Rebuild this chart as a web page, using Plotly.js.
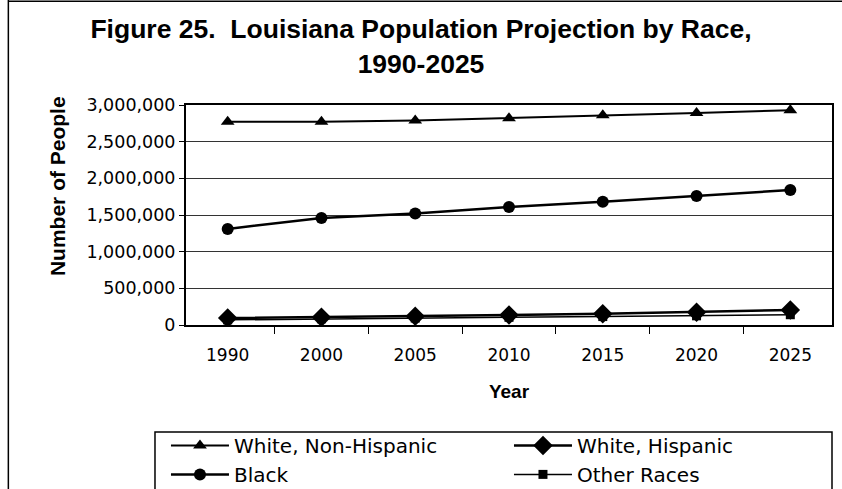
<!DOCTYPE html>
<html>
<head>
<meta charset="utf-8">
<script src="https://cdn.plot.ly/plotly-3.0.1.min.js"></script>
<style>html,body{margin:0;padding:0;background:#fff;}#chart{width:842px;height:489px;}</style>
</head>
<body>
<div id="chart"></div>
<script>
const years = ["1990","2000","2005","2010","2015","2020","2025"];
const whiteNonHispanic = [2770000, 2770000, 2790000, 2820000, 2860000, 2890000, 2930000];
const whiteHispanic = [95000, 105000, 120000, 135000, 155000, 175000, 205000];
const black = [1310000, 1460000, 1520000, 1610000, 1680000, 1760000, 1840000];
const otherRaces = [70000, 85000, 95000, 105000, 115000, 125000, 140000];
const yTickVals = [0, 500000, 1000000, 1500000, 2000000, 2500000, 3000000];
const yTickText = ["0","500,000","1,000,000","1,500,000","2,000,000","2,500,000","3,000,000"];

const fontA = "Liberation Sans, Arial, sans-serif";
const fontD = "DejaVu Sans, sans-serif";
function tr(name, y, symbol, size, width) {
  return {x: years, y: y, name: name, type: "scatter", mode: "lines+markers",
    line: {color: "#000", width: width},
    marker: {symbol: symbol, size: size, color: "#000"}};
}
const data = [
  tr("White, Non-Hispanic", whiteNonHispanic, "triangle-up", 12, 2),
  tr("White, Hispanic", whiteHispanic, "diamond", 15, 2.5),
  tr("Black", black, "circle", 12, 2.5),
  tr("Other Races", otherRaces, "square", 9, 1.5)
];
const layout = {
  width: 842, height: 489,
  margin: {l: 186, r: 10, t: 105, b: 164, autoexpand: false},
  paper_bgcolor: "#fff", plot_bgcolor: "#fff",
  font: {family: fontA, color: "#000"},
  title: {text: "<b>Figure 25.  Louisiana Population Projection by Race,<br>1990-2025</b>",
    font: {size: 26.5, family: fontA, color: "#000"}, x: 0.5, xanchor: "center",
    xref: "container", yref: "container", y: 0.922, yanchor: "top"},
  showlegend: true,
  legend: {orientation: "h", x: -0.031, xanchor: "left", y: -0.4586, yanchor: "top",
    font: {size: 20, family: fontD, color: "#000"}, entrywidth: 270, entrywidthmode: "pixels",
    borderwidth: 0, bgcolor: "rgba(0,0,0,0)", tracegroupgap: 0, itemwidth: 58},
  xaxis: {type: "category", tickson: "boundaries", ticks: "outside", ticklen: 7, tickcolor: "#000",
    showline: true, linecolor: "#000", linewidth: 2, mirror: true, showgrid: false,
    tickfont: {size: 17, family: fontD}, zeroline: false, ticklabelstandoff: 14,
    title: {text: "<b>Year</b>", font: {size: 19, family: fontA}, standoff: 20}},
  yaxis: {range: [0, 3000000], tickvals: yTickVals, ticktext: yTickText, ticks: "outside",
    ticklen: 5, tickcolor: "#000", showline: true, linecolor: "#000", linewidth: 2, mirror: true,
    showgrid: true, gridcolor: "#333", gridwidth: 1, zeroline: false,
    tickfont: {size: 17.5, family: fontD}},
  annotations: [
    {text: "<b>Number of People</b>", xref: "paper", yref: "paper", x: -0.198, y: 0.632,
      textangle: -90, showarrow: false, font: {size: 21, family: fontA, color: "#000"},
      xanchor: "center", yanchor: "middle"}
  ],
  shapes: [
    {type: "line", xref: "paper", yref: "paper", x0: -0.275, x1: -0.275, y0: -0.8, y1: 1.5,
      line: {color: "#000", width: 1.5}},
    {type: "line", xref: "paper", yref: "paper", x0: -0.275, x1: 1.02, y0: 1.472, y1: 1.472,
      line: {color: "#000", width: 1.5}},
    {type: "rect", xref: "paper", yref: "paper", x0: -0.048, x1: 1.0, y0: -0.486, y1: -0.8,
      line: {color: "#000", width: 1.5}, fillcolor: "rgba(0,0,0,0)"}
  ]
};
Plotly.newPlot("chart", data, layout, {displayModeBar: false, staticPlot: true});
</script>
</body>
</html>
